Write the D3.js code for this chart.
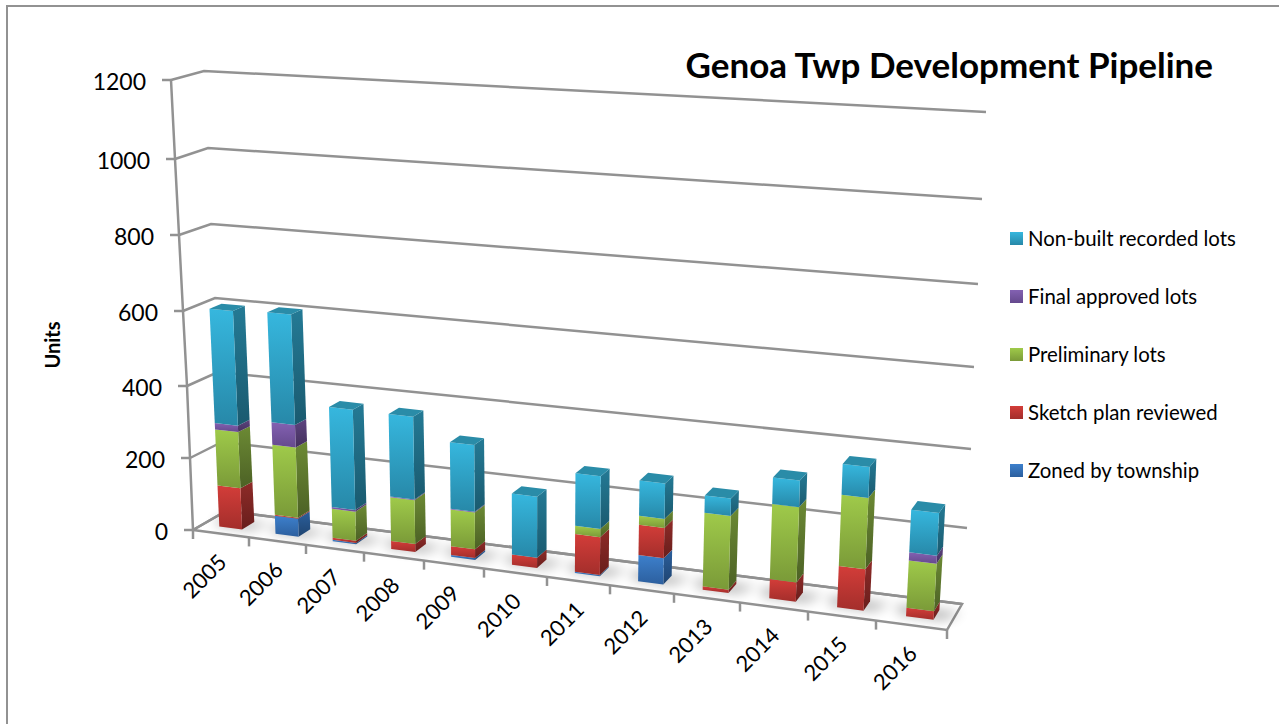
<!DOCTYPE html>
<html lang="en">
<head>
<meta charset="UTF-8">
<title>Genoa Twp Development Pipeline</title>
<script src="https://cdn.jsdelivr.net/npm/d3@7"></script>
<style>
  html, body { margin: 0; padding: 0; background: #fff; overflow: hidden; }
  svg { display: block; font-family: Lato, "Open Sans", sans-serif; }
</style>
</head>
<body>
<div id="chart"></div>
<script>
// data
const years = [2005, 2006, 2007, 2008, 2009, 2010, 2011, 2012, 2013, 2014, 2015, 2016];
const zoned =    [0, 50, 4, 0, 5, 0, 3, 70, 0, 0, 0, 0];
const sketch =   [115, 3, 6, 22, 24, 28, 102, 81, 9, 51, 108, 22];
const prelim =   [157, 195, 80, 120, 100, 0, 22, 24, 195, 196, 183, 123];
const finalLots = [18, 62, 5, 2, 2, 0, 0, 0, 0, 0, 0, 21];
const nonBuilt = [310, 295, 275, 225, 180, 165, 140, 93, 45, 68, 78, 108];
const seriesNames = ["Zoned by township", "Sketch plan reviewed", "Preliminary lots", "Final approved lots", "Non-built recorded lots"];
const seriesValues = [zoned, sketch, prelim, finalLots, nonBuilt];
const yTicks = [0, 200, 400, 600, 800, 1000, 1200];

// face colours per series: front top, front bottom, side top, side bottom, cap
const faceColors = [
  ["#3d80cc", "#2c5f9e", "#2b5f9c", "#1f4470", "#2f6cb0"],
  ["#d33d39", "#a32e2b", "#8e2b28", "#681e1c", "#b03330"],
  ["#9fca4a", "#7a9a38", "#6c8a34", "#4c6125", "#86a83e"],
  ["#8361b2", "#65498d", "#5d4480", "#44305d", "#6f529a"],
  ["#36b7de", "#2788a8", "#247a95", "#1a5a6f", "#2a8ca8"]
];

const width = 1279, height = 724;
const svg = d3.select("#chart").append("svg").attr("width", width).attr("height", height);

// the four upright edges of the 3D box, one pair of scales per edge
const edge = (xs, ys) => ({
  x: d3.scaleLinear().domain(yTicks).range(xs),
  y: d3.scaleLinear().domain(yTicks).range(ys)
});
const frontLeft = edge([193, 190, 187, 183, 179, 175, 171], [530, 458, 386, 311, 235, 159, 80]);
const backLeft = edge([226, 222, 218, 215, 211, 208, 204], [511, 442, 372, 298, 224, 148, 71]);
const backRight = edge([962, 967, 971, 974, 978, 982, 986], [604, 528, 449, 367, 284, 199, 112]);
const frontRight = edge([947, 951, 955, 959, 963, 967, 971], [630, 552, 471, 386, 299, 210, 118]);

// category position along the box, perspective makes later years wider
const slots = d3.scaleLinear()
  .domain(d3.range(years.length + 1))
  .range([193, 249, 306, 364, 424, 484, 547, 610, 674, 740, 808, 876, 947].map(d => (d - 193) / 754));

const lerp = (a, b, t) => a + (b - a) * t;
function project(slot, value, depth) {
  const s = slots(slot);
  const fx = lerp(frontLeft.x(value), frontRight.x(value), s);
  const fy = lerp(frontLeft.y(value), frontRight.y(value), s);
  const bx = lerp(backLeft.x(value), backRight.x(value), s);
  const by = lerp(backLeft.y(value), backRight.y(value), s);
  return [lerp(fx, bx, depth), lerp(fy, by, depth)];
}
const closed = d3.line().curve(d3.curveLinearClosed);

const defs = svg.append("defs");
defs.append("filter").attr("id", "soft")
  .attr("x", "-60%").attr("y", "-60%").attr("width", "220%").attr("height", "220%")
  .append("feGaussianBlur").attr("stdDeviation", 6);
faceColors.forEach((c, i) => {
  [["front", c[0], c[1]], ["side", c[2], c[3]]].forEach(([name, top, bottom]) => {
    const g = defs.append("linearGradient").attr("id", `${name}${i}`)
      .attr("x1", 0).attr("y1", 0).attr("x2", 0).attr("y2", 1);
    g.append("stop").attr("offset", "0%").attr("stop-color", top);
    g.append("stop").attr("offset", "100%").attr("stop-color", bottom);
  });
});

// outer frame, runs off the right and bottom of the window
svg.append("rect").attr("x", 7).attr("y", 6).attr("width", 1400).attr("height", 1000)
  .attr("fill", "none").attr("stroke", "#929292").attr("stroke-width", 2);

const lineColor = "#929292";
const grid = svg.append("g").attr("fill", "none").attr("stroke", lineColor).attr("stroke-width", 2.5);

// walls
grid.selectAll("path.wall").data(yTicks).join("path").attr("class", "wall")
  .attr("d", v => d3.line()([project(0, v, 0), project(0, v, 1), project(years.length, v, 1)]));
// left upright
grid.append("path").attr("d", d3.line()(yTicks.map(v => project(0, v, 0))));
// floor
grid.append("path").attr("d", closed([
  project(0, 0, 0), project(years.length, 0, 0), project(years.length, 0, 1), project(0, 0, 1)
]));

// y axis, the ticks get moved on to the slanted upright
const yAxis = svg.append("g")
  .call(d3.axisLeft(frontLeft.y).tickValues(yTicks).tickSize(9).tickPadding(16).tickFormat(d3.format("d")));
yAxis.select(".domain").remove();
yAxis.selectAll(".tick").attr("transform", v => `translate(${frontLeft.x(v)},${frontLeft.y(v)})`);
yAxis.selectAll(".tick line").attr("stroke", lineColor).attr("stroke-width", 2.5);
yAxis.selectAll(".tick text").attr("font-family", "Lato").attr("font-size", 23).attr("fill", "#000").attr("dy", "0.42em");

// x axis, same idea along the floor's front edge
const xBand = d3.scaleBand().domain(years).range([0, 754]);
const xAxis = svg.append("g").call(d3.axisBottom(xBand).tickSize(0).tickPadding(0));
xAxis.select(".domain").remove();
xAxis.selectAll(".tick").attr("transform", (d, i) => {
  const p = project(i + 0.5, 0, 0);
  return `translate(${p[0] + 7},${p[1] + 30})`;
});
xAxis.selectAll(".tick text")
  .attr("font-family", "Lato").attr("font-size", 22).attr("fill", "#000")
  .attr("text-anchor", "end").attr("dy", 0).attr("y", 0)
  .attr("transform", "rotate(-45)");
svg.append("g").selectAll("line").data(d3.range(years.length + 1)).join("line")
  .attr("x1", i => project(i, 0, 0)[0]).attr("y1", i => project(i, 0, 0)[1])
  .attr("x2", i => project(i, 0, 0)[0]).attr("y2", i => project(i, 0, 0)[1] + 9)
  .attr("stroke", lineColor).attr("stroke-width", 2.5);

// stacked columns
const table = years.map((y, i) => {
  const row = { year: y };
  seriesNames.forEach((n, k) => { row[n] = seriesValues[k][i]; });
  return row;
});
const stacked = d3.stack().keys(seriesNames)(table);
const totals = table.map((d, i) => d3.sum(seriesValues, s => s[i]));

// later columns sit a touch right of their slot and take a little less of it
const barCenter = d3.scaleLinear().domain([0, years.length - 1]).range([0.5, 0.55]);
const barHalf = d3.scaleLinear().domain([0, years.length - 1]).range([0.205, 0.195]);
const depth0 = 0.3, depth1 = 0.68;

svg.append("g").attr("filter", "url(#soft)").attr("fill", "#000").attr("opacity", 0.3)
  .selectAll("path").data(years).join("path")
  .attr("d", (y, i) => {
    const u0 = i + barCenter(i) - barHalf(i), u1 = i + barCenter(i) + barHalf(i);
    return closed([
      project(u0 - 0.12, 0, depth0 + 0.05),
      project(u1 + 0.12, 0, depth0 + 0.03),
      project(u1 + 0.32, 0, depth1),
      project(u0 - 0.22, 0, depth1)
    ]);
  });

const bars = svg.append("g");
years.forEach((y, i) => {
  const u0 = i + barCenter(i) - barHalf(i), u1 = i + barCenter(i) + barHalf(i);
  stacked.forEach((layer, k) => {
    const [v0, v1] = layer[i];
    if (v1 <= v0) return;
    bars.append("path").attr("fill", `url(#side${k})`).attr("d", closed([
      project(u1, v1, depth0), project(u1, v1, depth1), project(u1, v0, depth1), project(u1, v0, depth0)
    ]));
    bars.append("path").attr("fill", `url(#front${k})`).attr("d", closed([
      project(u0, v1, depth0), project(u1, v1, depth0), project(u1, v0, depth0), project(u0, v0, depth0)
    ]));
  });
  const topLayer = stacked.filter(l => l[i][1] > l[i][0]).pop();
  bars.append("path").attr("fill", faceColors[topLayer.index][4]).attr("d", closed([
    project(u0, totals[i], depth0), project(u1, totals[i], depth0),
    project(u1, totals[i], depth1), project(u0, totals[i], depth1)
  ]));
});

// title and y label
svg.append("text").attr("x", 1213).attr("y", 78).attr("text-anchor", "end")
  .attr("font-size", 35).attr("font-weight", 700).attr("fill", "#000")
  .text("Genoa Twp Development Pipeline");
svg.append("text").attr("transform", "translate(60,345) rotate(-90)").attr("text-anchor", "middle")
  .attr("font-size", 20).attr("font-weight", 700).attr("fill", "#000").text("Units");

// legend, top to bottom is the reverse of the stack
const legendY = d3.scalePoint().domain(seriesNames.slice().reverse()).range([238.5, 470.5]);
const legend = svg.append("g").selectAll("g").data(seriesNames).join("g")
  .attr("transform", n => `translate(1010,${legendY(n)})`);
legend.append("rect").attr("y", -6.5).attr("width", 13).attr("height", 13)
  .attr("fill", (n, k) => `url(#front${k})`);
legend.append("text").attr("x", 18).attr("y", 7).attr("font-size", 20.4).attr("fill", "#000").text(n => n);
</script>
</body>
</html>
